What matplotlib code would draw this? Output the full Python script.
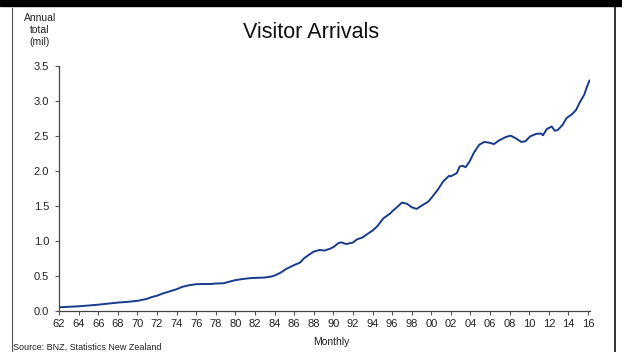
import matplotlib
matplotlib.use("Agg")
import matplotlib.pyplot as plt
from matplotlib.lines import Line2D
from matplotlib.patches import Rectangle

plt.rcParams['font.family'] = ['Liberation Sans', 'DejaVu Sans']

# annual total visitor arrivals (millions)
years = [1962.0, 1963.0, 1964.0, 1965.0, 1966.0, 1967.0, 1968.0, 1969.0, 1970.0, 1970.9,
         1971.5, 1972.0, 1972.6, 1973.3, 1974.0, 1974.6, 1975.2, 1976.0, 1976.8, 1977.5,
         1978.0, 1978.8, 1979.3, 1980.0, 1980.8, 1981.5, 1982.0, 1983.0, 1983.6, 1984.0,
         1984.6, 1985.2, 1986.0, 1986.6, 1987.0, 1987.6, 1988.0, 1988.6, 1989.1, 1989.7,
         1990.0, 1990.5, 1990.8, 1991.3, 1992.0, 1992.4, 1993.0, 1993.6, 1994.0, 1994.5,
         1995.1, 1995.8, 1996.0, 1996.5, 1997.0, 1997.5, 1998.0, 1998.5, 1999.0, 1999.7,
         2000.0, 2000.7, 2001.2, 2001.8, 2002.0, 2002.6, 2002.9, 2003.2, 2003.5, 2003.9,
         2004.4, 2004.9, 2005.4, 2005.9, 2006.4, 2006.95, 2007.6, 2008.1, 2008.65, 2009.2,
         2009.6, 2010.1, 2010.7, 2011.2, 2011.4, 2011.8, 2012.3, 2012.6, 2012.9, 2013.4,
         2013.8, 2014.4, 2014.8, 2015.1, 2015.6, 2015.9, 2016.15]
arrivals = [0.053, 0.060, 0.067, 0.078, 0.090, 0.105, 0.120, 0.130, 0.145, 0.170,
            0.200, 0.218, 0.250, 0.280, 0.310, 0.345, 0.365, 0.382, 0.385, 0.385,
            0.392, 0.395, 0.415, 0.440, 0.457, 0.468, 0.472, 0.477, 0.490, 0.505,
            0.545, 0.600, 0.655, 0.690, 0.750, 0.810, 0.846, 0.870, 0.862, 0.890,
            0.910, 0.966, 0.980, 0.955, 0.975, 1.020, 1.050, 1.110, 1.146, 1.210,
            1.320, 1.390, 1.420, 1.480, 1.545, 1.530, 1.480, 1.455, 1.500, 1.560,
            1.610, 1.736, 1.845, 1.926, 1.920, 1.965, 2.060, 2.070, 2.050, 2.130,
            2.270, 2.370, 2.410, 2.400, 2.380, 2.435, 2.480, 2.500, 2.460, 2.410,
            2.420, 2.490, 2.525, 2.530, 2.505, 2.596, 2.630, 2.570, 2.580, 2.653,
            2.750, 2.810, 2.870, 2.960, 3.080, 3.200, 3.285]

x_ticks = list(range(1962, 2017, 2))
x_labels = ["%02d" % (y % 100) for y in x_ticks]
y_ticks = [0.0, 0.5, 1.0, 1.5, 2.0, 2.5, 3.0, 3.5]

W, H = 622, 352
fig = plt.figure(figsize=(W / 100, H / 100), dpi=100)
ax = fig.add_axes([59 / W, 1 - 311 / H, (590 - 59) / W, (311 - 65.5) / H])

ax.plot(years, arrivals, color='#173b8a', lw=1.4)

ax.set_xlim(1962, 2016.2)
ax.set_ylim(0, 3.5)
ax.set_xticks(x_ticks)
ax.set_xticklabels(x_labels)
ax.set_yticks(y_ticks)
ax.set_yticklabels(["%.1f" % v for v in y_ticks])
for s in ['top', 'right']:
    ax.spines[s].set_visible(False)
for s in ['left', 'bottom']:
    ax.spines[s].set_color('#444444')
    ax.spines[s].set_linewidth(0.9)
ax.tick_params(axis='both', direction='out', length=3, width=0.8, color='#555555',
               labelsize=8, labelcolor='#222222')
ax.tick_params(axis='y', pad=4)
ax.tick_params(axis='x', pad=3)

# frame
fig.patches.append(Rectangle((0, 1 - 6 / H), 1, 6 / H, transform=fig.transFigure,
                             color='black', zorder=5))
fig.lines.append(Line2D([12 / W, 12 / W], [0, 1 - 8 / H], transform=fig.transFigure,
                        color='#555555', lw=0.8))
fig.lines.append(Line2D([615 / W, 615 / W], [0, 1 - 8 / H], transform=fig.transFigure,
                        color='#333333', lw=1.4))

fig.text(311 / W, 1 - 33 / H, "Visitor Arrivals", ha='center', va='center',
         fontsize=15.5, color='#111111')
fig.text(40 / W, 1 - 30 / H, "Annual\ntotal\n(mil)", ha='center', va='center',
         fontsize=7.5, color='#222222', linespacing=1.2)
fig.text(331 / W, 1 - 342 / H, "Monthly", ha='center', va='center',
         fontsize=7.5, color='#222222')
fig.text(13 / W, 1 - 347 / H, "Source: BNZ, Statistics New Zealand", ha='left',
         va='center', fontsize=6.5, color='#222222')

fig.savefig("out.png", dpi=100)
